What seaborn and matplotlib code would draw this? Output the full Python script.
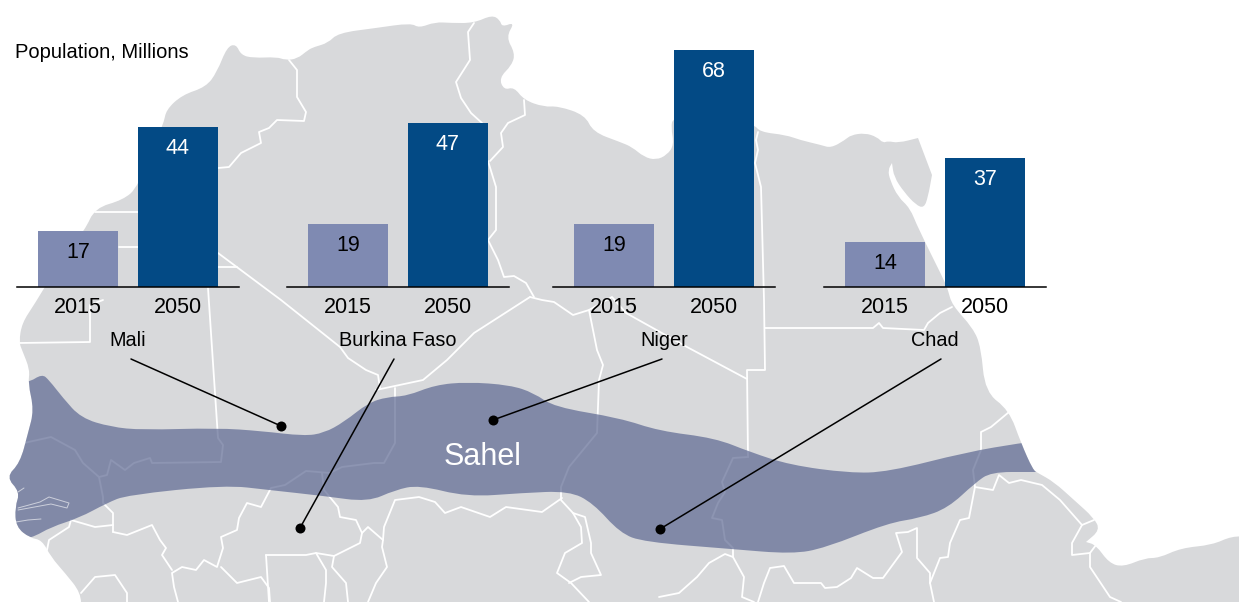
import pandas as pd
import seaborn as sns
import matplotlib.pyplot as plt
from matplotlib.path import Path
from matplotlib.patches import PathPatch

countries = ["Mali", "Burkina Faso", "Niger", "Chad"]
years = ["2015", "2050"]
# bar heights as drawn in the picture, which does not scale exactly with the printed labels
heights_2015 = [16.0, 18.0, 18.0, 13.0]
heights_2050 = [45.8, 47.0, 68.0, 37.0]
labels_2015 = ["17", "19", "19", "14"]
labels_2050 = ["44", "47", "68", "37"]

bar_colors = {"2015": "#7f8ab2", "2050": "#034a85"}
value_colors = {"2015": "black", "2050": "white"}

# the map is drawn in picture pixels on a full-figure axes
land = [(81,612),(81,593),(65,573),(51,557),(42,540),(30,538),(16,527),(15,507),(20,492),(6,477),(20,463),
    (28,433),(34,410),(28,383),(30,370),(22,350),(19,342),(22,323),(34,305),(60,262),(85,230),(95,208),
    (123,200),(138,187),(164,123),(166,110),(182,95),(206,87),(217,72),(227,47),(236,44),(241,55),(253,58),
    (277,57),(285,60),(297,59),(308,50),(314,47),(328,43),(338,33),(376,28),(411,23),(419,28),(435,22),
    (451,23),(474,23),(492,15),(500,20),(502,27),(515,22),(506,37),(515,53),(512,65),(499,78),(504,90),
    (514,87),(524,100),(544,107),(558,106),(585,115),(593,132),(620,142),(632,147),(644,157),(656,160),
    (667,155),(674,145),(671,127),(673,118),(700,110),(754,124),(760,132),(786,135),(800,140),(821,145),
    (831,148),(845,140),(851,135),(865,133),(877,137),(883,143),(888,141),(898,143),(918,138),(918,138),
    (932,175),(932,175),(928,197),(924,208),(916,205),(904,192),(894,177),(892,163),(892,163),(888,170),
    (890,180),(898,197),(910,208),(918,228),(944,280),(948,290),(952,305),(973,328),(981,347),(985,392),
    (1009,410),(1021,443),(1033,470),(1038,473),(1054,482),(1074,500),(1094,518),(1100,530),(1086,542),
    (1086,542),(1096,545),(1109,563),(1123,567),(1145,558),(1159,558),(1181,548),(1212,545),(1232,536),
    (1250,537),(1250,537),(1250,612),(1250,612),(81,612)]

sahel = [(0,383),(28,383),(42,374),(49,380),(63,398),(81,418),(111,427),(142,430),(217,428),(261,431),(304,436),
    (324,433),(344,422),(368,403),(387,397),(407,396),(435,385),(467,382),(510,385),(534,393),(554,407),
    (620,418),(659,431),(715,438),(750,452),(790,465),(849,473),(888,472),(967,452),(1021,443),(1045,440),
    (1045,472),(1031,472),(991,472),(975,483),(948,508),(920,518),(888,523),(825,548),(792,554),(731,549),
    (644,542),(620,533),(593,503),(569,491),(522,493),(467,497),(419,485),(395,490),(368,502),(324,496),
    (269,490),(225,485),(127,495),(107,503),(79,518),(51,527),(32,538),(0,545)]

borders = [
    [(289,60),(297,70),(297,97),(306,112),(304,121),(277,120),(269,128),(259,132),(261,143),(241,153),(229,167),(218,168)],
    [(95,212),(138,212)],
    [(119,247),(138,247)],
    [(218,267),(237,267)],
    [(218,253),(281,300),(340,347),(348,358),(366,370),(378,375),(380,388)],
    [(376,390),(423,380),(447,360),(474,333),(530,297)],
    [(530,297),(542,300),(554,302),(573,315),(589,310),(612,297),(626,313),(687,347),(747,379)],
    [(474,23),(468,32),(470,60),(456,82),(461,98),(471,113),(482,123)],
    [(524,100),(525,115),(508,123),(501,133),(503,147),(490,161)],
    [(488,161),(496,187),(496,230),(488,240),(498,260),(504,277),(514,276),(526,283),(534,297)],
    [(758,132),(756,140),(758,150),(755,163),(761,187),(764,300),(765,370),(747,370),(748,457)],
    [(765,328),(873,328),(879,323),(883,328),(924,330),(928,323),(940,313),(952,307)],
    [(748,457),(733,458),(722,482),(725,492),(718,503),(712,518),(722,520),(725,540),(733,548),(733,557),(744,577),(742,597),(754,602)],
    [(1009,412),(991,427),(981,432),(981,450),(973,470),(975,487),(969,518),(960,520),(950,543),(948,557),(940,558),(930,583),(934,602)],
    [(975,487),(993,490),(999,475),(1009,483),(1021,480),(1042,485),(1060,500),(1082,525),(1094,520)],
    [(1082,525),(1072,543),(1072,555),(1090,553),(1096,545)],
    [(1090,553),(1090,567),(1110,597),(1121,602)],
    [(659,597),(679,593),(697,577),(709,563),(725,554),(733,557)],
    [(758,602),(764,583),(770,568),(784,566),(794,583),(821,583),(825,588),(837,587),(851,578),(857,568),(873,578),(883,578),(902,552),(896,533),(908,532),(917,528),(917,558),(930,573),(930,583)],
    [(24,443),(51,437),(75,450),(83,463),(99,477),(103,497),(103,503),(113,513),(113,532)],
    [(99,477),(107,475),(111,460),(125,470),(134,463),(150,458),(152,463),(221,462),(223,445),(218,438),(208,288)],
    [(103,300),(90,305),(90,342),(19,343)],
    [(395,388),(395,443),(384,463),(374,463),(342,467),(330,473),(306,471),(285,485),(271,488),(261,507),(247,503),(239,518),(237,530),(221,537),(223,548),(217,567),(204,560),(196,570),(182,567),(172,573),(174,587),(178,602)],
    [(113,532),(127,535),(152,525),(160,540),(166,548),(162,555),(172,570)],
    [(113,525),(95,527),(71,520),(69,527),(49,540),(47,550)],
    [(81,593),(95,577),(115,575),(127,593),(127,602)],
    [(322,473),(324,490),(338,507),(340,517),(356,520),(362,533),(368,527),(383,540),(382,547),(387,567),(376,583),(368,602)],
    [(221,567),(237,583),(261,577),(269,588),(270,602)],
    [(266,555),(306,555),(316,553),(334,556),(360,543),(362,533)],
    [(266,555),(269,602)],
    [(316,553),(326,570),(326,583),(324,602)],
    [(334,556),(332,567),(346,583),(348,602)],
    [(383,540),(384,527),(395,500),(419,497),(435,502),(445,513),(461,507),(490,517),(506,507),(542,512),(562,498)],
    [(589,310),(597,350),(603,365),(599,380),(597,433),(569,467),(561,487),(561,500),(573,513),(581,527),(582,543),(565,553),(557,573),(571,583),(589,602)],
    [(573,513),(585,517),(591,543),(591,553),(601,575),(581,577),(569,583)],
]

inlets = [
    [(18,508),(40,502),(49,497),(69,503),(67,508),(51,504),(18,510)],
    [(16,522),(28,520),(41,519)],
    [(18,492),(24,488)],
]

leaders = [((131,359),(281,426)), ((394,359),(300,528)), ((662,359),(493,420)), ((941,359),(660,529))]
name_x = [128, 398, 664, 935]
panel_left = [17, 287, 553, 824]


def smooth_path(points):
    # quadratic curve through the midpoints, so the outline has no corners
    mids = [((a[0]+b[0])/2, (a[1]+b[1])/2) for a, b in zip(points, points[1:]+points[:1])]
    verts = [mids[-1]]
    codes = [Path.MOVETO]
    for p, m in zip(points, mids):
        verts += [p, m]
        codes += [Path.CURVE3, Path.CURVE3]
    return Path(verts, codes)


sns.set_theme(style="white")
plt.rcParams["font.family"] = ["Liberation Sans", "DejaVu Sans"]

W, H = 1239, 602
fig = plt.figure(figsize=(W/100, H/100), dpi=100)
bg = fig.add_axes([0, 0, 1, 1])
bg.set_xlim(0, W)
bg.set_ylim(H, 0)
bg.axis("off")

land_patch = PathPatch(smooth_path(land), facecolor="#d8d9db", edgecolor="none", zorder=1)
bg.add_patch(land_patch)
for line in borders:
    bg.plot([p[0] for p in line], [p[1] for p in line], color="white", lw=1.3, zorder=2, solid_joinstyle="round")

band = PathPatch(smooth_path(sahel), facecolor="#5d6892", edgecolor="none", alpha=0.7, zorder=3)
bg.add_patch(band)
band.set_clip_path(land_patch)
for line in inlets:
    bg.plot([p[0] for p in line], [p[1] for p in line], color="white", lw=0.7, alpha=0.6, zorder=4)

for start, end in leaders:
    bg.plot([start[0], end[0]], [start[1], end[1]], color="black", lw=1.1, zorder=5)
    bg.plot(end[0], end[1], "o", color="black", ms=7.2, mew=0, zorder=6)

for name, x in zip(countries, name_x):
    bg.text(x, 340, name, ha="center", va="center", fontsize=14.3, color="black", zorder=7)
bg.text(15, 52, "Population, Millions", ha="left", va="center", fontsize=14.5, color="black", zorder=7)
bg.text(483, 457, "Sahel", ha="center", va="center", fontsize=22, color="white", zorder=7)

df = pd.DataFrame({
    "Country": countries*2,
    "Year": ["2015"]*4 + ["2050"]*4,
    "Population": heights_2015 + heights_2050,
    "Label": labels_2015 + labels_2050,
})

for name, left in zip(countries, panel_left):
    sub = df[df["Country"] == name]
    ax = fig.add_axes([left/W, 1-287/H, 222/W, 237/H])
    ax.patch.set_alpha(0)
    sns.barplot(data=sub, x="Year", y="Population", hue="Year", order=years, hue_order=years,
                palette=bar_colors, saturation=1, width=0.8, legend=False, ax=ax,
                edgecolor="none", linewidth=0)
    ax.set_xlim(-0.61, 1.61)
    ax.set_ylim(0, 68)
    ax.set_xlabel("")
    ax.set_ylabel("")
    ax.set_yticks([])
    sns.despine(ax=ax, left=True)
    ax.spines["bottom"].set_color("black")
    ax.spines["bottom"].set_linewidth(1.1)
    ax.tick_params(axis="x", length=0, pad=7.5, labelsize=15.5, colors="black")
    for i, row in enumerate(sub.itertuples()):
        ax.annotate(row.Label, (i, row.Population), xytext=(0, -15.5), textcoords="offset points",
                    ha="center", va="center", fontsize=15.5, color=value_colors[row.Year])

fig.savefig("out.png", dpi=100)
